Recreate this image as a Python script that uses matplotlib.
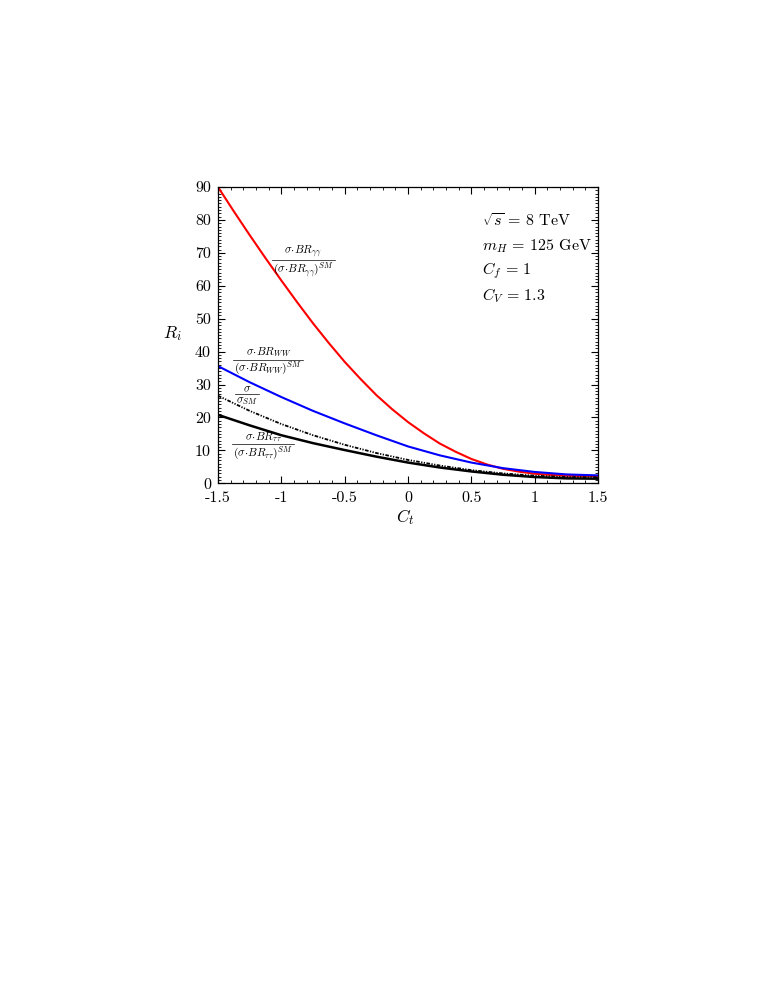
import matplotlib
matplotlib.use("Agg")
import matplotlib.pyplot as plt
from matplotlib.ticker import MultipleLocator
from matplotlib.lines import Line2D

plt.rcParams['mathtext.fontset'] = 'cm'
plt.rcParams['font.family'] = ['cmr10', 'DejaVu Serif']
plt.rcParams['axes.formatter.use_mathtext'] = True

# Data
ct_fine = [-1.5, -1.375, -1.25, -1.125, -1.0, -0.875, -0.75, -0.625, -0.5, -0.375,
           -0.25, -0.125, 0.0, 0.125, 0.25, 0.375, 0.5, 0.625, 0.75, 0.875,
           1.0, 1.125, 1.25, 1.375, 1.5]
r_gamgam = [90.0, 82.6, 75.4, 68.4, 61.6, 55.0, 48.6, 42.6, 36.9, 31.7,
            26.8, 22.5, 18.6, 15.2, 12.1, 9.6, 7.4, 5.7, 4.4, 3.55,
            2.9, 2.55, 2.3, 2.22, 2.2]

ct = [-1.5, -1.25, -1.0, -0.75, -0.5, -0.25, 0.0, 0.25, 0.5, 0.75, 1.0, 1.25, 1.5]
r_ww = [35.6, 30.7, 26.2, 22.0, 18.2, 14.6, 11.2, 8.5, 6.3, 4.6, 3.45, 2.7, 2.4]
r_sigma = [26.6, 22.0, 18.0, 14.6, 11.7, 9.2, 7.1, 5.4, 4.0, 3.0, 2.3, 1.9, 1.8]
r_tautau = [20.8, 17.6, 14.6, 12.2, 10.1, 8.1, 6.3, 4.8, 3.6, 2.6, 1.9, 1.5, 1.4]

xticks = [-1.5, -1.0, -0.5, 0.0, 0.5, 1.0, 1.5]
xticklabels = ['-1.5', '-1', '-0.5', '0', '0.5', '1', '1.5']
yticks = [0, 10, 20, 30, 40, 50, 60, 70, 80, 90]

fig = plt.figure(figsize=(7.78, 10.07), dpi=100)
ax = fig.add_axes([218/778, 1-483.3/1007, 380/778, 296.3/1007])

ax.plot(ct_fine, r_gamgam, color='#ff0000', lw=1.5)
ax.plot(ct, r_ww, color='#0000ff', lw=1.5)
ax.plot(ct, r_sigma, color='black', lw=1.3, dashes=(2.0, 0.8, 0.7, 0.8, 0.7, 0.8))
ax.plot(ct, r_tautau, color='black', lw=1.8)

ax.set_xlim(-1.5, 1.5)
ax.set_ylim(0, 90)
ax.set_xticks(xticks)
ax.set_xticklabels(xticklabels)
ax.set_yticks(yticks)
ax.set_yticklabels([str(v) for v in yticks])
ax.xaxis.set_minor_locator(MultipleLocator(0.1))
ax.yaxis.set_minor_locator(MultipleLocator(1))
ax.tick_params(which='both', direction='in', top=True, right=True, labelsize=11.5)
ax.tick_params(which='major', length=5, width=0.8)
ax.tick_params(which='minor', length=2.5, width=0.6)
ax.tick_params(axis='x', pad=6)
ax.tick_params(axis='y', pad=5)
for sp in ax.spines.values():
    sp.set_linewidth(0.9)

ax.text(-0.121, 0.507, r'$R_i$', transform=ax.transAxes, fontsize=12.5, ha='center', va='center')
ax.text(0.492, -0.114, r'$C_t$', transform=ax.transAxes, fontsize=12.5, ha='center', va='center')

tfs = 11.5
ax.text(0.583, 79.4, r'$\sqrt{s}$ = 8 TeV', fontsize=tfs, ha='left', va='center')
ax.text(0.583, 71.9, r'$m_H$ = 125 GeV', fontsize=tfs, ha='left', va='center')
ax.text(0.583, 64.5, r'$C_f$ = 1', fontsize=tfs, ha='left', va='center')
ax.text(0.583, 56.9, r'$C_V$ = 1.3', fontsize=tfs, ha='left', va='center')

renderer = fig.canvas.get_renderer()


def frac(x, y, num, den, fs=8.2):
    t1 = ax.annotate(num, xy=(x, y), xytext=(0, 0.3), textcoords='offset points',
                     ha='center', va='bottom', fontsize=fs)
    t2 = ax.annotate(den, xy=(x, y), xytext=(0, -0.6), textcoords='offset points',
                     ha='center', va='top', fontsize=fs)
    w = max(t1.get_window_extent(renderer).width, t2.get_window_extent(renderer).width)
    px, py = ax.transData.transform((x, y))
    x0 = ax.transData.inverted().transform((px - w / 2 - 1, py))[0]
    x1 = ax.transData.inverted().transform((px + w / 2 + 1, py))[0]
    ax.add_line(Line2D([x0, x1], [y, y], color='black', lw=0.5))


frac(-0.827, 67.8, r'$\sigma\!\cdot\! BR_{\gamma\gamma}$', r'$(\sigma\!\cdot\! BR_{\gamma\gamma})^{SM}$')
frac(-1.103, 37.6, r'$\sigma\!\cdot\! BR_{WW}$', r'$(\sigma\!\cdot\! BR_{WW})^{SM}$')
frac(-1.273, 27.0, r'$\sigma$', r'$\sigma_{SM}$')
frac(-1.142, 11.8, r'$\sigma\!\cdot\! BR_{\tau\tau}$', r'$(\sigma\!\cdot\! BR_{\tau\tau})^{SM}$')

fig.savefig('out.png', dpi=100)
